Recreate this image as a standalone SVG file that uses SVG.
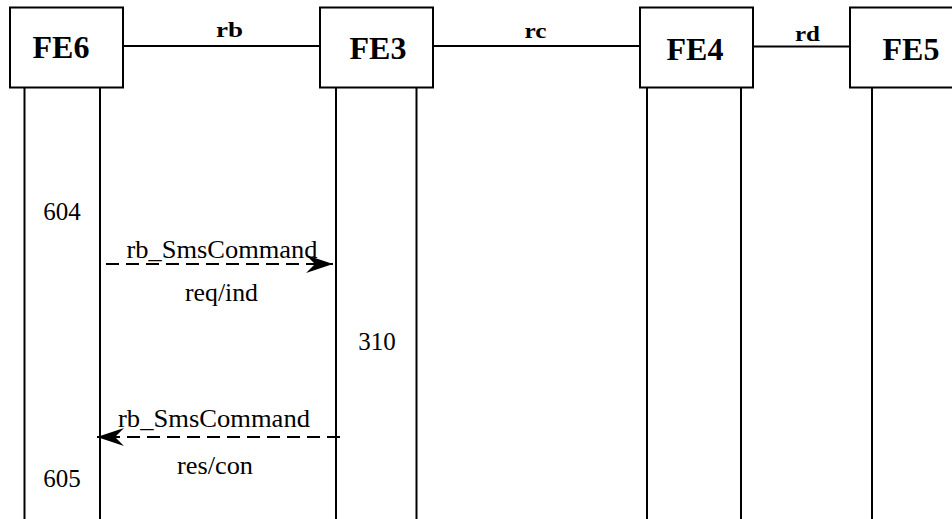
<svg xmlns="http://www.w3.org/2000/svg" width="952" height="519" viewBox="0 0 952 519">
<style>
.box{fill:#fff;stroke:#000;stroke-width:2}
.life{stroke:#000;stroke-width:2;fill:none}
.link{stroke:#000;stroke-width:2;fill:none}
.msg{stroke:#000;stroke-width:2;fill:none;stroke-dasharray:13 7}
.fe{font-family:"Liberation Serif","Times New Roman",serif;font-weight:bold;font-size:32px;text-anchor:middle}
.lk{font-family:"Liberation Serif","Times New Roman",serif;font-weight:bold;font-size:22px;text-anchor:middle}
.t{font-family:"Liberation Serif","Times New Roman",serif;font-size:25px;text-anchor:middle}
</style>
<defs>
<marker id="ah" markerUnits="userSpaceOnUse" viewBox="-28 -11 30 22" refX="0" refY="0" markerWidth="30" markerHeight="22" orient="auto">
<path d="M0,0 L-27,-9 L-18,0 L-27,9 Z" fill="#000"/>
</marker>
</defs>
<rect width="952" height="519" fill="#fff"/>
<g id="connectors">
<line class="link" x1="123" y1="46" x2="320" y2="46"/>
<line class="link" x1="433" y1="46" x2="640" y2="46"/>
<line class="link" x1="753" y1="46.5" x2="850" y2="46.5"/>
<text class="lk" x="229.5" y="37" textLength="27" lengthAdjust="spacingAndGlyphs">rb</text>
<text class="lk" x="535.5" y="38" textLength="22" lengthAdjust="spacingAndGlyphs">rc</text>
<text class="lk" x="807.5" y="41" textLength="25" lengthAdjust="spacingAndGlyphs">rd</text>
<line class="life" x1="24.5" y1="88" x2="24.5" y2="519"/>
<line class="life" x1="100" y1="88" x2="100" y2="519"/>
<line class="life" x1="336" y1="88" x2="336" y2="519"/>
<line class="life" x1="416.5" y1="88" x2="416.5" y2="519"/>
<line class="life" x1="647" y1="88" x2="647" y2="519"/>
<line class="life" x1="741" y1="88" x2="741" y2="519"/>
<line class="life" x1="872" y1="88" x2="872" y2="519"/>
<line class="msg" x1="106" y1="264" x2="333" y2="264" marker-end="url(#ah)"/>
<text class="t" x="222" y="258" textLength="191" lengthAdjust="spacingAndGlyphs">rb_SmsCommand</text>
<text class="t" x="221.5" y="301" textLength="73" lengthAdjust="spacingAndGlyphs">req/ind</text>
<line class="msg" x1="340" y1="437" x2="97" y2="437" marker-end="url(#ah)"/>
<text class="t" x="214" y="427" textLength="192" lengthAdjust="spacingAndGlyphs">rb_SmsCommand</text>
<text class="t" x="215" y="474" textLength="76" lengthAdjust="spacingAndGlyphs">res/con</text>
</g>
<g id="FE6">
<rect class="box" x="10" y="7.5" width="113" height="80"/>
<text class="fe" x="61" y="58">FE6</text>
</g>
<g id="FE3">
<rect class="box" x="320" y="7.5" width="113" height="80"/>
<text class="fe" x="378" y="59">FE3</text>
</g>
<g id="FE4">
<rect class="box" x="640" y="7.5" width="113" height="80"/>
<text class="fe" x="695" y="60">FE4</text>
</g>
<g id="FE5">
<rect class="box" x="850" y="7.5" width="113" height="80"/>
<text class="fe" x="911" y="60">FE5</text>
</g>
<g id="labels">
<text class="t" x="62" y="220">604</text>
<text class="t" x="377" y="350">310</text>
<text class="t" x="62" y="487">605</text>
</g>
</svg>
